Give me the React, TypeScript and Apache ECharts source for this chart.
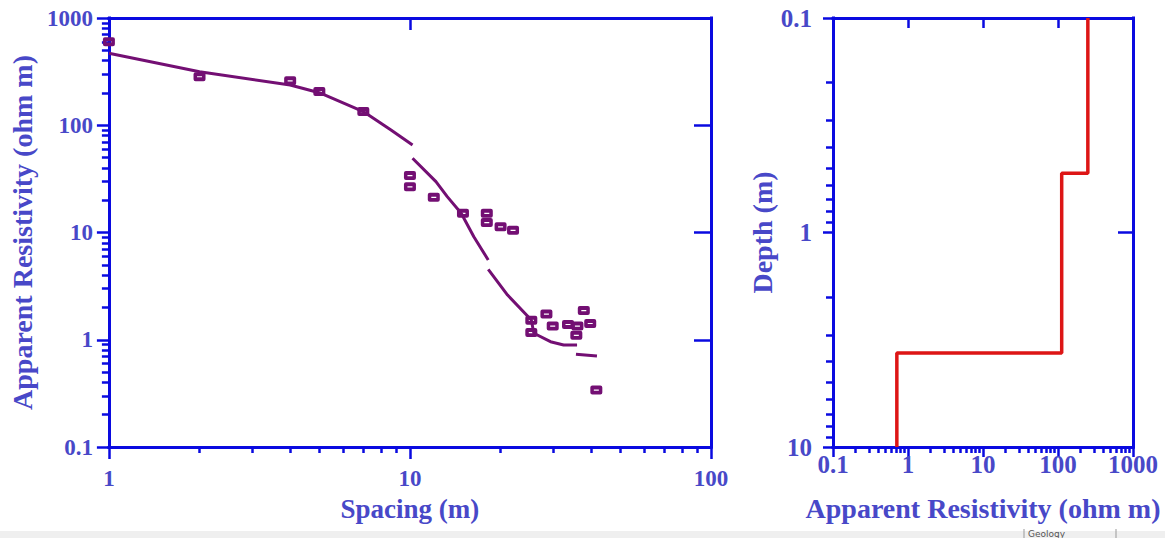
import React, { useEffect, useRef } from "react";
import * as echarts from "echarts";

// Observed sounding data (spacing in m, apparent resistivity in ohm m)
const spacingObs = [1, 2, 4, 5, 7, 10, 10, 12, 15, 18, 18, 20, 22, 25.3, 25.3, 28.4, 29.8, 33.5, 36, 35.7, 37.8, 39.7, 41.6];
const rhoObs = [600, 284, 260, 206, 134, 34, 26.7, 21.3, 15.1, 15.1, 12.4, 11.3, 10.5, 1.52, 1.17, 1.74, 1.34, 1.39, 1.34, 1.1, 1.87, 1.42, 0.34];

// Fitted model curve, drawn in separate segments
const fit1X = [1, 2, 4, 5, 7, 8.65, 10.2];
const fit1Y = [469, 316, 237, 201, 134, 90.3, 65.5];
const fit2X = [10.2, 12.2, 13.3, 14.8, 16.3, 18.2];
const fit2Y = [49.2, 29.8, 21.6, 15.1, 9.14, 5.54];
const fit3X = [18.2, 21.1, 25.3, 25.8, 29.3, 32.4, 35.9];
const fit3Y = [4.54, 2.61, 1.53, 1.15, 0.959, 0.893, 0.893];
const fit4X = [35.6, 41.8];
const fit4Y = [0.731, 0.705];

// Layered model (resistivity per layer, depth of layer boundaries)
const layerRho = [250, 112, 0.71];
const layerBottom = [0.1, 0.53, 3.65, 10];

// Minor tick values
const minorSpacing = [2, 3, 4, 5, 6, 7, 8, 9, 20, 30, 40, 50, 60, 70, 80, 90];
const minorRhoLeft = [0.2, 0.3, 0.4, 0.5, 0.6, 0.7, 0.8, 0.9, 2, 3, 4, 5, 6, 7, 8, 9, 20, 30, 40, 50, 60, 70, 80, 90, 200, 300, 400, 500, 600, 700, 800, 900];
const minorRhoRight = [0.2, 0.3, 0.4, 0.5, 0.6, 0.7, 0.8, 0.9, 2, 3, 4, 5, 6, 7, 8, 9, 20, 30, 40, 50, 60, 70, 80, 90, 200, 300, 400, 500, 600, 700, 800, 900];
const minorDepth = [0.2, 0.3, 0.4, 0.5, 0.6, 0.7, 0.8, 0.9, 2, 3, 4, 5, 6, 7, 8, 9];

const AXIS = "#0a0ae0";
const LABEL = "#4848c8";
const PURPLE = "#730f73";
const RED = "#dd1515";
const FONT = "'Liberation Serif', 'Times New Roman', serif";

const zip = (xs: number[], ys: number[]) => xs.map((x, i) => [x, ys[i]]);

const fmt = (v: number) => String(Number(Number(v).toPrecision(6)));

function stepData() {
  const pts: number[][] = [];
  for (let i = 0; i < layerRho.length; i++) {
    pts.push([layerRho[i], layerBottom[i]]);
    pts.push([layerRho[i], layerBottom[i + 1]]);
  }
  return pts;
}

const markerPath =
  "path://M2,0 H10 Q12,0 12,2 V7 Q12,9 10,9 H2 Q0,9 0,7 V2 Q0,0 2,0 Z M3.5,4 V5.2 H8.5 V4 Z";

const axisLine = { show: true, lineStyle: { color: AXIS, width: 3, cap: "square" } };
const tickLabel = (margin: number, size = 23) => ({
  color: LABEL,
  fontFamily: FONT,
  fontWeight: "bold",
  fontSize: size,
  margin,
  formatter: (v: number) => fmt(v),
});
const nameStyle = { color: LABEL, fontFamily: FONT, fontWeight: "bold", fontSize: 28 };

function minorAxis(
  gridIndex: number,
  min: number,
  max: number,
  position: string,
  values: number[],
  len: number,
  inverse = false
) {
  return {
    type: "log",
    logBase: 10,
    gridIndex,
    min,
    max,
    inverse,
    position,
    offset: 0,
    axisLine: { show: false },
    splitLine: { show: false },
    axisLabel: { show: false },
    axisTick: {
      show: true,
      inside: false,
      length: len,
      customValues: values,
      lineStyle: { color: AXIS, width: 2.5 },
    },
  };
}

export default function App() {
  const ref = useRef<HTMLDivElement>(null);
  useEffect(() => {
    document.body.style.margin = "0";
    const chart = echarts.init(ref.current!, undefined, { renderer: "svg" });
    chart.setOption({
      animation: false,
      backgroundColor: "#ffffff",
      grid: [
        { left: 107, top: 18, width: 604, height: 429, show: false },
        { left: 833, top: 18, width: 300, height: 429, show: false },
      ],
      xAxis: [
        {
          type: "log", logBase: 10, gridIndex: 0, min: 1, max: 100, position: "bottom",
          axisLine, splitLine: { show: false },
          axisTick: { show: true, inside: false, length: 12, lineStyle: { color: AXIS, width: 2.5 } },
          axisLabel: tickLabel(20),
          name: "Spacing (m)", nameLocation: "middle", nameGap: 48,
          nameTextStyle: { ...nameStyle, fontSize: 27 },
        },
        {
          type: "log", logBase: 10, gridIndex: 0, min: 1, max: 100, position: "top",
          axisLine, splitLine: { show: false },
          axisTick: { show: true, inside: true, length: 12, lineStyle: { color: AXIS, width: 2.5 } },
          axisLabel: { show: false },
        },
        {
          type: "log", logBase: 10, gridIndex: 1, min: 0.1, max: 1000, position: "bottom",
          axisLine, splitLine: { show: false },
          axisTick: { show: true, inside: false, length: 10, lineStyle: { color: AXIS, width: 2.5 } },
          axisLabel: tickLabel(5, 25),
          name: "Apparent Resistivity (ohm m)", nameLocation: "middle", nameGap: 47,
          nameTextStyle: nameStyle,
        },
        {
          type: "log", logBase: 10, gridIndex: 1, min: 0.1, max: 1000, position: "top",
          axisLine, splitLine: { show: false },
          axisTick: { show: true, inside: true, length: 10, lineStyle: { color: AXIS, width: 2.5 } },
          axisLabel: { show: false },
        },
        minorAxis(0, 1, 100, "bottom", minorSpacing, 6),
        minorAxis(1, 0.1, 1000, "bottom", minorRhoRight, 6),
      ],
      yAxis: [
        {
          type: "log", logBase: 10, gridIndex: 0, min: 0.1, max: 1000, position: "left",
          axisLine, splitLine: { show: false },
          axisTick: { show: true, inside: false, length: 12, lineStyle: { color: AXIS, width: 2.5 } },
          axisLabel: tickLabel(16),
          name: "Apparent Resistivity (ohm m)", nameLocation: "middle", nameGap: 72,
          nameTextStyle: nameStyle,
        },
        {
          type: "log", logBase: 10, gridIndex: 0, min: 0.1, max: 1000, position: "right",
          axisLine, splitLine: { show: false },
          axisTick: { show: true, inside: true, length: 17, lineStyle: { color: AXIS, width: 2.5 } },
          axisLabel: { show: false },
        },
        {
          type: "log", logBase: 10, gridIndex: 1, min: 0.1, max: 10, inverse: true, position: "left",
          axisLine, splitLine: { show: false },
          axisTick: { show: true, inside: false, length: 10, lineStyle: { color: AXIS, width: 2.5 } },
          axisLabel: tickLabel(21, 25),
          name: "Depth (m)", nameLocation: "middle", nameGap: 42,
          nameTextStyle: nameStyle,
        },
        {
          type: "log", logBase: 10, gridIndex: 1, min: 0.1, max: 10, inverse: true, position: "right",
          axisLine, splitLine: { show: false },
          axisTick: { show: true, inside: true, length: 15, lineStyle: { color: AXIS, width: 2.5 } },
          axisLabel: { show: false },
        },
        minorAxis(0, 0.1, 1000, "left", minorRhoLeft, 7),
        minorAxis(1, 0.1, 10, "left", minorDepth, 7, true),
      ],
      series: [
        ...[zip(fit1X, fit1Y), zip(fit2X, fit2Y), zip(fit3X, fit3Y), zip(fit4X, fit4Y)].map((d) => ({
          type: "line",
          xAxisIndex: 0,
          yAxisIndex: 0,
          data: d,
          showSymbol: false,
          symbol: "none",
          lineStyle: { color: PURPLE, width: 3 },
          z: 3,
        })),
        {
          type: "scatter",
          xAxisIndex: 0,
          yAxisIndex: 0,
          data: zip(spacingObs, rhoObs),
          symbol: markerPath,
          symbolSize: [12, 9],
          itemStyle: { color: PURPLE, opacity: 1 },
          z: 4,
        },
        {
          type: "line",
          xAxisIndex: 2,
          yAxisIndex: 2,
          data: stepData(),
          showSymbol: false,
          symbol: "none",
          lineStyle: { color: RED, width: 3.5 },
          z: 3,
        },
      ],
      graphic: [
        { type: "rect", left: 0, top: 531, shape: { width: 1165, height: 7 }, style: { fill: "#efefef" }, silent: true },
        { type: "line", shape: { x1: 1024, y1: 529, x2: 1024, y2: 538 }, style: { stroke: "#999", lineWidth: 1 }, silent: true },
        { type: "text", left: 1028, top: 529, style: { text: "Geology", fill: "#555", fontSize: 9, fontFamily: "DejaVu Sans" }, silent: true },
        { type: "line", shape: { x1: 1116, y1: 529, x2: 1116, y2: 538 }, style: { stroke: "#999", lineWidth: 1 }, silent: true },
      ],
    });
    return () => chart.dispose();
  }, []);
  return <div ref={ref} style={{ position: "fixed", left: 0, top: 0, width: 1165, height: 538 }} />;
}
